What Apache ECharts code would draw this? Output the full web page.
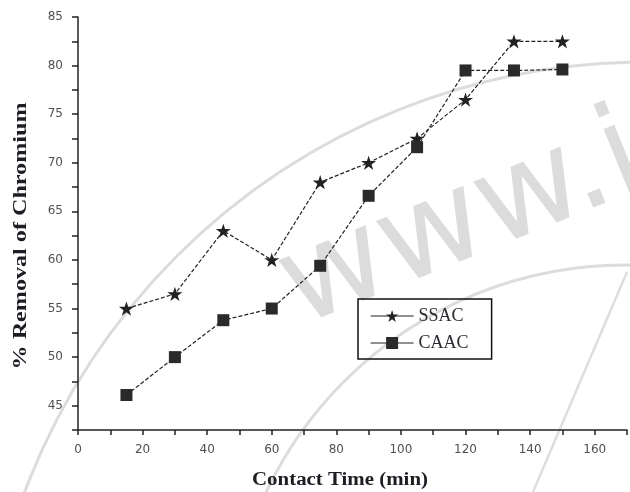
<!DOCTYPE html>
<html><head><meta charset="utf-8">
<script src="https://cdn.jsdelivr.net/npm/echarts@6/dist/echarts.min.js"></script>
<style>html,body{margin:0;padding:0;background:#fff}#c{width:630px;height:492px}</style>
</head><body><div id="c"></div>
<script>
const contactTime = [15, 30, 45, 60, 75, 90, 105, 120, 135, 150];
const ssac = [55, 56.5, 63, 60, 68, 70, 72.5, 76.5, 82.5, 82.5];
const caac = [46.1, 50, 53.8, 55, 59.4, 66.6, 71.6, 79.5, 79.5, 79.6];
const seriesNames = ['SSAC', 'CAAC'];
const xTitle = 'Contact Time (min)';
const yTitle = '% Removal of Chromium';
const watermarkText = 'www.i';

const star = 'path://M50 0L61.2 34.5L97.6 34.5L68.2 55.9L79.4 90.5L50 69.1L20.6 90.5L31.8 55.9L2.4 34.5L38.8 34.5Z';
const chart = echarts.init(document.getElementById('c'), null, {renderer: 'canvas'});
const lab = {fontFamily: 'DejaVu Sans', fontSize: 12, color: '#505050'};
const wm = {stroke: '#dcdcdc', fill: null, lineWidth: 3};
chart.setOption({
  animation: false,
  backgroundColor: '#fff',
  grid: {left: 78, right: 0, top: 17, bottom: 62},
  xAxis: {
    type: 'value', min: 0, max: 170, interval: 10,
    axisLine: {lineStyle: {color: '#222', width: 1.5}},
    axisTick: {length: 5, lineStyle: {color: '#222', width: 1.5}},
    splitLine: {show: false},
    axisLabel: Object.assign({margin: 14, formatter: v => (v % 20 === 0 && v <= 160) ? String(v) : ''}, lab)
  },
  yAxis: {
    type: 'value', min: 42.5, max: 85, interval: 2.5,
    axisLine: {show: true, lineStyle: {color: '#222', width: 1.5}},
    axisTick: {show: true, length: 6, lineStyle: {color: '#222', width: 1.5}},
    splitLine: {show: false},
    axisLabel: Object.assign({margin: 15, formatter: v => (v % 5 === 0) ? String(v) : ''}, lab)
  },
  legend: {
    orient: 'vertical', left: 358, top: 299,
    padding: [8, 23, 7, 12],
    borderColor: '#111', borderWidth: 1.5,
    itemWidth: 43, itemHeight: 15, itemGap: 9,
    lineStyle: {type: 'solid', color: '#222', width: 1.2},
    textStyle: {fontFamily: 'Liberation Serif', fontSize: 18, lineHeight: 18, color: '#2a2a30'},
    data: seriesNames
  },
  graphic: [
    {type: 'circle', silent: true, z: -10, shape: {cx: 646, cy: 726, r: 664}, style: wm},
    {type: 'circle', silent: true, z: -10, shape: {cx: 625, cy: 662, r: 397}, style: wm},
    {type: 'line', silent: true, z: -10, shape: {x1: 533, y1: 492, x2: 627, y2: 272}, style: {stroke: '#dedede', lineWidth: 2.5}},
    {type: 'text', silent: true, z: -10, x: 287, y: 296, rotation: 22 * Math.PI / 180, scaleX: 1.07, scaleY: 1.05,
     style: {text: watermarkText, font: '120px "DejaVu Sans"', fill: '#dcdcdc', align: 'left', verticalAlign: 'middle'}},
    {type: 'text', x: 21, y: 236, rotation: Math.PI / 2, scaleX: 1.27,
     style: {text: yTitle, font: 'bold 19px "Liberation Serif"', fill: '#1d1d24', align: 'center', verticalAlign: 'middle'}},
    {type: 'text', x: 340, y: 480, scaleX: 1.16,
     style: {text: xTitle, font: 'bold 18px "Liberation Serif"', fill: '#1d1d24', align: 'center', verticalAlign: 'middle'}}
  ],
  series: [
    {name: seriesNames[0], type: 'line', data: contactTime.map((t, i) => [t, ssac[i]]),
     symbol: star, symbolSize: 15, symbolKeepAspect: true,
     itemStyle: {color: '#222'}, lineStyle: {color: '#222', width: 1.2, type: [4, 2]}},
    {name: seriesNames[1], type: 'line', data: contactTime.map((t, i) => [t, caac[i]]),
     symbol: 'rect', symbolSize: 12,
     itemStyle: {color: '#2a2a2a'}, lineStyle: {color: '#222', width: 1.2, type: [4, 2]}}
  ]
});
</script></body></html>
